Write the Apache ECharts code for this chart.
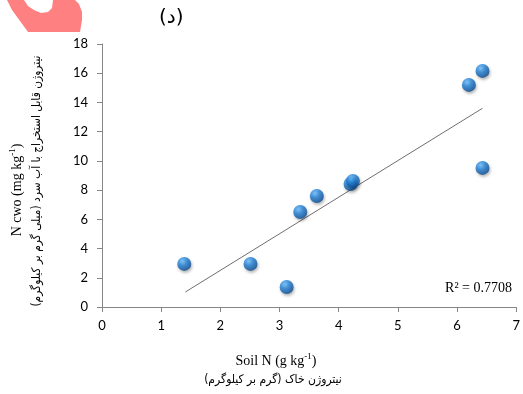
<!DOCTYPE html>
<html><head><meta charset="utf-8">
<script src="https://cdn.jsdelivr.net/npm/echarts@6/dist/echarts.min.js"></script>
<style>html,body{margin:0;padding:0;background:#fff}#c{width:523px;height:394px}</style>
</head><body><div id="c"></div>
<script>
const soilN = [1.39, 2.51, 3.12, 3.35, 3.63, 4.20, 4.24, 6.20, 6.43, 6.43];
const nCwo  = [2.95, 2.95, 1.37, 6.50, 7.60, 8.42, 8.63, 15.2, 16.16, 9.52];
const trendX = [1.41, 6.43];
const trendY = [1.03, 13.6];
const xTicks = [0,1,2,3,4,5,6,7];
const yTicks = [0,2,4,6,8,10,12,14,16,18];
const r2Text = 'R² = 0.7708';

const chart = echarts.init(document.getElementById('c'), null, {renderer:'canvas'});
const axisCol = '#868686';
chart.setOption({
  animation:false,
  grid:{left:102, right:4, top:44, bottom:87, containLabel:false},
  xAxis:{type:'value', min:xTicks[0], max:xTicks[xTicks.length-1], interval:1,
    axisLine:{lineStyle:{color:axisCol}}, axisTick:{show:true, length:5, lineStyle:{color:axisCol}},
    splitLine:{show:false}, axisLabel:{margin:12, color:'#000', fontFamily:'Lato', fontSize:13}},
  yAxis:{type:'value', min:yTicks[0], max:yTicks[yTicks.length-1], interval:2,
    axisLine:{show:true, lineStyle:{color:axisCol}}, axisTick:{show:true, length:5, lineStyle:{color:axisCol}},
    splitLine:{show:false}, axisLabel:{margin:14, color:'#000', fontFamily:'Lato', fontSize:13}},
  series:[
    {type:'line', data:trendX.map((x,i)=>[x,trendY[i]]), symbol:'none',
     lineStyle:{color:'#6e6e6e', width:1}, z:1},
    {type:'scatter', data:soilN.map((x,i)=>[x,nCwo[i]]), symbolSize:14, z:3,
     itemStyle:{color:{type:'radial', x:0.38, y:0.32, r:0.7, colorStops:[
       {offset:0,color:'#6cc0ff'},{offset:0.45,color:'#1f7fd6'},{offset:1,color:'#0a4a90'}]},
       shadowBlur:3, shadowColor:'rgba(0,0,0,0.35)', shadowOffsetX:1, shadowOffsetY:2}}
  ],
  graphic:[
    {type:'polygon', shape:{points:[[7,0],[75,0],[79,4],[82,12],[82,20],[80,32],[28,32],[20,21],[12,10]]},
     style:{fill:'#ff8080'}},
    {type:'polygon', shape:{points:[[24,0],[28,6],[34,10],[41,13],[48,12],[52,8],[53,0]]}, style:{fill:'#fff'}},
    {type:'text', left:159, top:8, style:{text:'(د)', font:'20px "DejaVu Sans"', fill:'#000'}},
    {type:'text', x:17, y:190, rotation:Math.PI/2,
     style:{rich:{a:{fontFamily:'Liberation Serif', fontSize:14, fill:'#000'}, s:{fontFamily:'Liberation Serif', fontSize:9, verticalAlign:'top', padding:[0,0,8,0]}},
       text:'{a|N cwo (mg kg}{s|-1}{a|)}', align:'center', verticalAlign:'middle', fill:'#000'}},
    {type:'text', x:37, y:181, rotation:Math.PI/2, scaleX:0.89,
     style:{text:'نیتروژن قابل استخراج با آب سرد (میلی گرم بر کیلوگرم)', font:'12px "DejaVu Sans"', fill:'#000', align:'center', verticalAlign:'middle'}},
    {type:'text', x:276, y:361,
     style:{rich:{a:{fontFamily:'Liberation Serif', fontSize:14, fill:'#000'}, s:{fontFamily:'Liberation Serif', fontSize:9, padding:[0,0,8,0]}},
       text:'{a|Soil N (g kg}{s|-1}{a|)}', align:'center', verticalAlign:'middle'}},
    {type:'text', x:273, y:380, scaleX:0.9,
     style:{text:'نیتروژن خاک (گرم بر کیلوگرم)', font:'12px "DejaVu Sans"', fill:'#000', align:'center', verticalAlign:'middle'}},
    {type:'text', x:512, y:288,
     style:{text:r2Text, font:'14px "Liberation Serif"', fill:'#000', align:'right', verticalAlign:'middle'}}
  ]
});
</script></body></html>
